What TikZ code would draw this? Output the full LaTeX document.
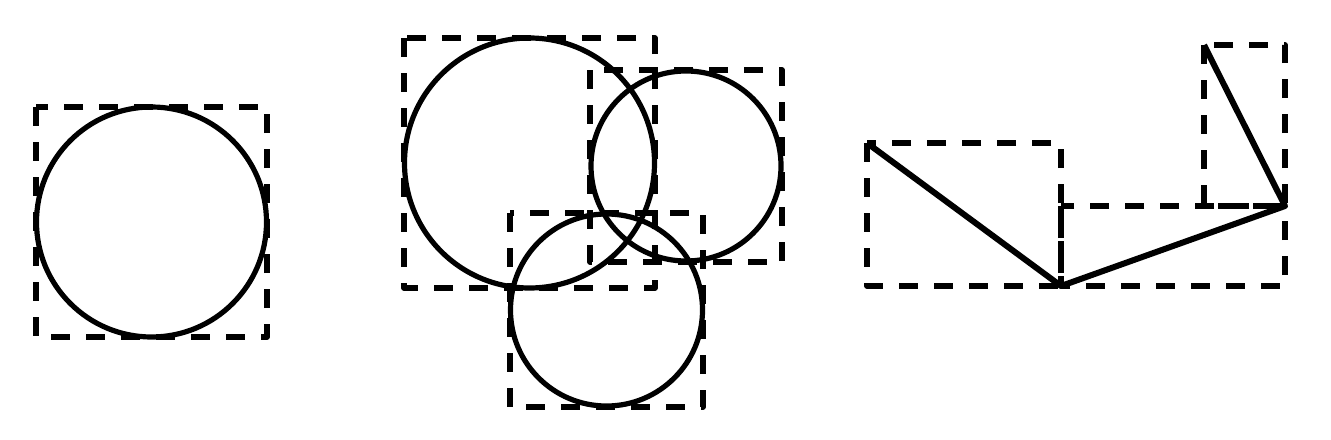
\documentclass[tikz,border=0pt]{standalone}
\begin{document}
\begin{tikzpicture}[x=0.5pt,y=-0.5pt,
  bbox/.style={draw=black,line width=2.8pt,dash pattern=on 9.5pt off 8pt,line join=round},
  solidline/.style={draw=black,line width=2.6pt,line join=round}]
\useasboundingbox (0,0) rectangle (1331,439);
% left
\draw[bbox] (36,107) rectangle (267,337);
\draw[solidline] (151.5,222) circle[radius=115];
% middle
\draw[bbox] (404,38) rectangle (655,288);
\draw[bbox] (590,70) rectangle (782,262);
\draw[bbox] (510,213) rectangle (703,407);
\draw[solidline] (529.5,163) circle[radius=125];
\draw[solidline] (686,166) circle[radius=95];
\draw[solidline] (606.5,310) circle[radius=96];
% right
\draw[bbox] (867,143) rectangle (1061,286);
\draw[bbox] (1061,206) rectangle (1285,286);
\draw[bbox] (1204,45) rectangle (1285,206);
\coordinate (p1) at (867,143);
\coordinate (p2) at (1061,286);
\coordinate (p3) at (1285,206);
\coordinate (p4) at (1204,45);
\draw[solidline,line width=3pt] (p1) -- (p2) -- (p3) -- (p4);
\end{tikzpicture}
\end{document}
